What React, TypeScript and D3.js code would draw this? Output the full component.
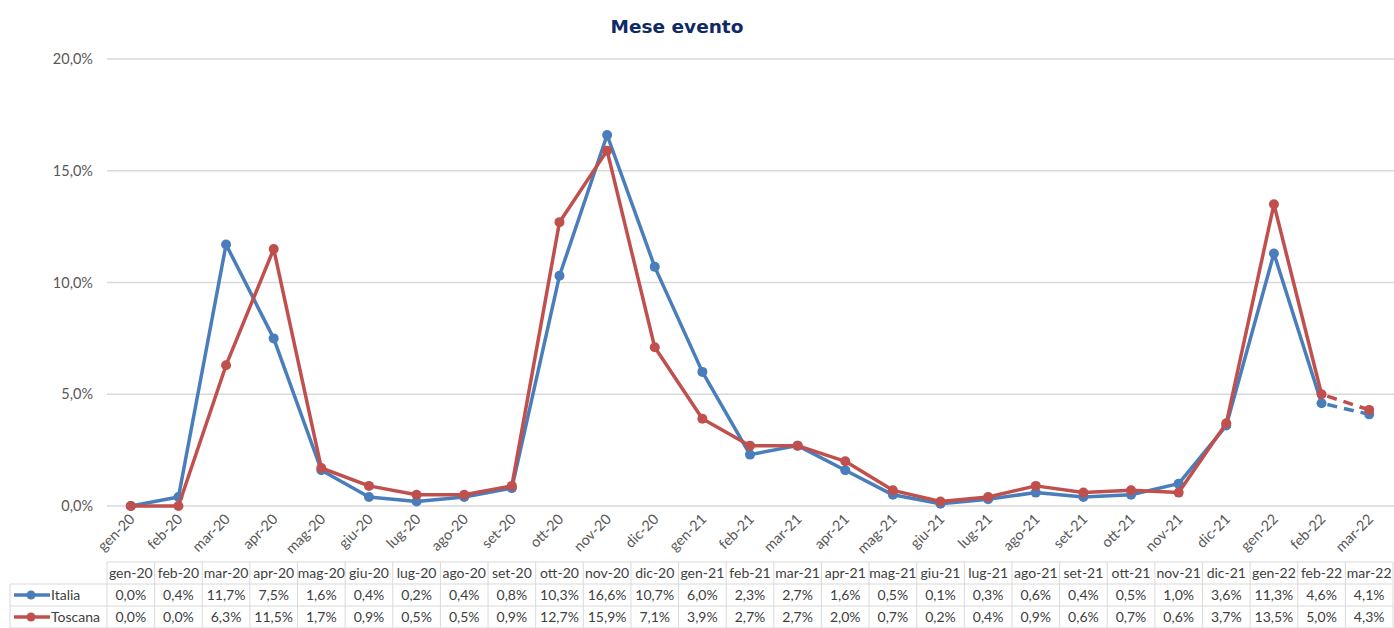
import React from "react";
import * as d3 from "d3";

const categories = ["gen-20","feb-20","mar-20","apr-20","mag-20","giu-20","lug-20","ago-20","set-20","ott-20","nov-20","dic-20","gen-21","feb-21","mar-21","apr-21","mag-21","giu-21","lug-21","ago-21","set-21","ott-21","nov-21","dic-21","gen-22","feb-22","mar-22"];
const italia = [0.0,0.4,11.7,7.5,1.6,0.4,0.2,0.4,0.8,10.3,16.6,10.7,6.0,2.3,2.7,1.6,0.5,0.1,0.3,0.6,0.4,0.5,1.0,3.6,11.3,4.6,4.1];
const toscana = [0.0,0.0,6.3,11.5,1.7,0.9,0.5,0.5,0.9,12.7,15.9,7.1,3.9,2.7,2.7,2.0,0.7,0.2,0.4,0.9,0.6,0.7,0.6,3.7,13.5,5.0,4.3];
const yTicks = [0, 5, 10, 15, 20];
const series = [
  { name: "Italia", values: italia, color: "#4a7ebb" },
  { name: "Toscana", values: toscana, color: "#c0504d" },
];

const W = 1394, H = 628;
const left = 107, right = 1393;
const font = "Lato, 'Open Sans', sans-serif";
const fmt = (v: number) => v.toFixed(1).replace(".", ",") + "%";

export default function App() {
  const x = d3.scaleBand<string>().domain(categories).range([left, right]).padding(0);
  const y = d3.scaleLinear().domain([0, 20]).range([506, 59]);
  const bw = x.bandwidth();
  const cx = (c: string) => (x(c) as number) + bw / 2;
  const n = categories.length;
  const line = d3.line<number>().x((_, i) => cx(categories[i])).y((d) => y(d));
  const rowTop = 562, rowH = 22;
  return (
    <svg width={W} height={H} style={{ position: "absolute", left: 0, top: 0, background: "#fff" }} fontFamily={font}>
      <text x={677} y={33} textAnchor="middle" fontSize={18.5} fontWeight="bold" fill="#0f2a66" fontFamily="'DejaVu Sans', Verdana, sans-serif">Mese evento</text>
      {yTicks.map((t) => (
        <g key={t}>
          <line x1={left} x2={W} y1={y(t)} y2={y(t)} stroke="#d9d9d9" strokeWidth={1.3} />
          <text x={93} y={y(t) + 5} textAnchor="end" fontSize={14.5} fill="#595959">{fmt(t)}</text>
        </g>
      ))}
      {categories.map((c) => (
        <text key={c} transform={`translate(${cx(c) + 5},${520}) rotate(-45)`} textAnchor="end" fontSize={14.5} fill="#595959">{c}</text>
      ))}
      {series.map((s) => {
        const solid = s.values.slice(0, n - 1);
        const dashed = s.values.slice(n - 2);
        const lineD = d3.line<number>().x((_, i) => cx(categories[n - 2 + i])).y((d) => y(d));
        return (
          <g key={s.name}>
            <path d={line(solid) || ""} fill="none" stroke={s.color} strokeWidth={3.5} strokeLinejoin="round" />
            <path d={lineD(dashed) || ""} fill="none" stroke={s.color} strokeWidth={3.5} strokeDasharray="10,7" strokeDashoffset={-6} />
            {s.values.map((v, i) => (
              <circle key={i} cx={cx(categories[i])} cy={y(v)} r={5} fill={s.color} />
            ))}
          </g>
        );
      })}
      {/* data table */}
      <g fontSize={14} fill="#404040">
        <line x1={left} x2={right} y1={rowTop} y2={rowTop} stroke="#d9d9d9" />
        {[1, 2, 3].map((r) => (
          <line key={r} x1={10} x2={right} y1={rowTop + r * rowH} y2={rowTop + r * rowH} stroke="#d9d9d9" />
        ))}
        <line x1={10} x2={10} y1={rowTop + rowH} y2={rowTop + 3 * rowH} stroke="#d9d9d9" />
        {categories.map((c) => (
          <line key={c} x1={x(c) as number} x2={x(c) as number} y1={rowTop} y2={rowTop + 3 * rowH} stroke="#d9d9d9" />
        ))}
        <line x1={right} x2={right} y1={rowTop} y2={rowTop + 3 * rowH} stroke="#d9d9d9" />
        {categories.map((c) => (
          <text key={c} x={cx(c)} y={rowTop + 16} textAnchor="middle">{c}</text>
        ))}
        {series.map((s, r) => (
          <g key={s.name}>
            <line x1={14} x2={50} y1={rowTop + (r + 1) * rowH + 11} y2={rowTop + (r + 1) * rowH + 11} stroke={s.color} strokeWidth={3.4} />
            <circle cx={31} cy={rowTop + (r + 1) * rowH + 11} r={4.5} fill={s.color} />
            <text x={51} y={rowTop + (r + 1) * rowH + 16}>{s.name}</text>
            {s.values.map((v, i) => (
              <text key={i} x={cx(categories[i])} y={rowTop + (r + 1) * rowH + 16} textAnchor="middle">{fmt(v)}</text>
            ))}
          </g>
        ))}
      </g>
    </svg>
  );
}
